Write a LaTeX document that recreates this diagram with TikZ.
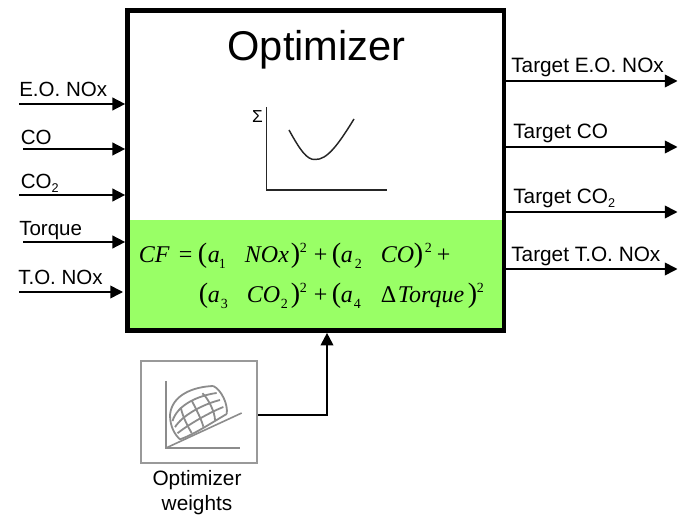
\documentclass[tikz,border=0pt]{standalone}
\usepackage{fontspec}
\setmainfont{Liberation Sans}
\newfontfamily\fserif{Liberation Serif}
\usetikzlibrary{arrows.meta,calc}
\newcommand{\pc}[2]{\rlap{\hskip #1\dimexpr 0.75pt\relax #2}}
\newcommand{\itm}[1]{\textit{#1}}
\newcommand{\lowd}[1]{\raisebox{-4pt}{\fontsize{10.5}{10.5}\selectfont #1}}
\newcommand{\highd}[1]{\raisebox{8pt}{\fontsize{10.5}{10.5}\selectfont #1}}
\newcommand{\bigp}[1]{{\fontsize{21}{21}\selectfont #1}}
\definecolor{panelgreen}{RGB}{153,255,102}
\definecolor{boxgray}{RGB}{153,153,153}
\definecolor{meshgray}{RGB}{140,140,140}
\tikzset{
  x=0.75pt,y=-0.75pt,
  arr/.style={line width=1.2pt,-{Triangle[length=9.5pt,width=9.5pt]},shorten >=0pt},
  lab/.style={anchor=base west,inner sep=0pt,font=\fontsize{15.4}{15.4}\selectfont},
  rlab/.style={anchor=base west,inner sep=0pt,font=\fontsize{15.6}{15.6}\selectfont},
  optbox/.style={draw=black,line width=3.5pt,minimum width=282.4pt,minimum height=240pt,inner sep=0pt},
  greenfill/.style={fill=panelgreen,draw=none},
  eqn/.style={anchor=base west,inner sep=0pt,font=\fserif\fontsize{18}{18}\selectfont},
  axis/.style={draw=black!85,line width=1.1pt},
  wbox/.style={draw=boxgray,line width=2pt,minimum width=87pt,minimum height=76.5pt,inner sep=0pt,fill=white},
  mesh/.style={draw=meshgray,line width=1.35pt},
  gaxis/.style={draw=meshgray,line width=1.2pt},
  wcaption/.style={inner sep=0pt,anchor=base,font=\fontsize{15.6}{15.6}\selectfont}
}
\begin{document}
\begin{tikzpicture}
\useasboundingbox (0,0) rectangle (678,516);
% green panel and main box
\path[greenfill] (127.5,220) rectangle (504,330);
\node[optbox] (opt) at (315.75,170.5) {};
\node[inner sep=0pt,anchor=base,font=\fontsize{31.2}{31.2}\selectfont] (title) at (316.5,61) {Optimizer};
% cost-function plot
\coordinate (ytop) at (266.5,107);
\coordinate (orig) at (266.5,190);
\coordinate (xend) at (387,190);
\draw[axis] (ytop) -- (orig) -- (xend);
\coordinate (cs) at (289,130);
\coordinate (ce) at (354,119);
\draw[axis] (cs) .. controls (300,150) and (307,160) .. (315,159.5) .. controls (327,160) and (338,145) .. (ce);
\node[inner sep=0pt,anchor=base,font=\fontsize{13}{13}\selectfont] (sigma) at (257.5,123) {Σ};
% equation
\node[eqn] (eq1) at (138,262.7) {\pc{0}{\itm{CF}}\pc{40}{=}\pc{59}{\bigp{(}}\pc{69}{\itm{a}}\pc{80}{\lowd{1}}\pc{106}{\itm{NOx}}\pc{152}{\bigp{)}}\pc{161}{\highd{2}}\pc{175}{+}\pc{193}{\bigp{(}}\pc{202}{\itm{a}}\pc{216}{\lowd{2}}\pc{242}{\itm{CO}}\pc{275}{\bigp{)}}\pc{286}{\highd{2}}\pc{298}{+}\hspace{236pt}};
\node[eqn] (eq2) at (138,303) {\pc{60}{\bigp{(}}\pc{69}{\itm{a}}\pc{82}{\lowd{3}}\pc{108}{\itm{CO}}\pc{142}{\lowd{2}}\pc{152}{\bigp{)}}\pc{161}{\highd{2}}\pc{175}{+}\pc{193}{\bigp{(}}\pc{202}{\itm{a}}\pc{215}{\lowd{4}}\pc{242}{Δ}\pc{259}{\itm{Torque}}\pc{329}{\bigp{)}}\pc{338}{\highd{2}}\hspace{262pt}};
% inputs
\coordinate (i1) at (19,104);
\coordinate (i2) at (23,149);
\coordinate (i3) at (19,195);
\coordinate (i4) at (23,242);
\coordinate (i5) at (19,292);
\coordinate (i5e) at (123,292);
\draw[arr] (i1) -- (i1 -| opt.west);
\draw[arr] (i2) -- (i2 -| opt.west);
\draw[arr] (i3) -- (i3 -| opt.west);
\draw[arr] (i4) -- (i4 -| opt.west);
\draw[arr] (i5) -- (i5e);
\node[lab] (li1) at (19,97) {E.O. NOx};
\node[lab] (li2) at (20.5,144.7) {CO};
\node[lab] (li3) at (20.5,189) {CO\raisebox{-2.5pt}{\fontsize{9.5}{9.5}\selectfont 2}};
\node[lab] (li4) at (19,236) {Torque};
\node[lab] (li5) at (18,285) {T.O. NOx};
% outputs
\coordinate (o1) at (677.5,81);
\coordinate (o2) at (677.5,147);
\coordinate (o3) at (677.5,212);
\coordinate (o4) at (677.5,269);
\draw[arr] (opt.east |- o1) -- (o1);
\draw[arr] (opt.east |- o2) -- (o2);
\draw[arr] (opt.east |- o3) -- (o3);
\draw[arr] (opt.east |- o4) -- (o4);
\node[rlab] (lo1) at (511,73) {Target E.O. NOx};
\node[rlab] (lo2) at (513,139) {Target CO};
\node[rlab] (lo3) at (513,204) {Target CO\raisebox{-2.5pt}{\fontsize{9.5}{9.5}\selectfont 2}};
\node[rlab] (lo4) at (511,262) {Target T.O. NOx};
% weights block
\node[wbox] (wb) at (199,412) {};
\coordinate (wbend) at (327,415);
\draw[arr,line width=1.5pt] (wb.east |- wbend) -- (wbend) -- (wbend |- opt.south);
\coordinate (gy) at (166,381);
\coordinate (go) at (166,448);
\coordinate (gx) at (240,448);
\coordinate (gd) at (241.7,413);
\draw[gaxis] (gy) -- (go) -- (gx);
\draw[gaxis] (go) -- (gd);
% mesh surface corners and handles
\coordinate (A) at (170,415);
\coordinate (B) at (213.3,386);
\coordinate (C) at (226.7,414);
\coordinate (D) at (180,439.3);
\coordinate (ab1) at (171.7,395);
\coordinate (ab2) at (193.3,386.7);
\coordinate (dc1) at (193.3,435);
\coordinate (dc2) at (213.3,421.7);
\coordinate (ad1) at (170,426.7);
\coordinate (ad2) at (175,435);
\coordinate (bc1) at (221.7,390);
\coordinate (bc2) at (228.3,405);
\foreach \t in {0,0.25,0.5,0.75,1}{
  \draw[mesh] ($(A)!\t!(D)$) .. controls ($(ab1)!\t!(dc1)$) and ($(ab2)!\t!(dc2)$) .. ($(B)!\t!(C)$);
  \draw[mesh] ($(A)!\t!(B)$) .. controls ($(ad1)!\t!(bc1)$) and ($(ad2)!\t!(bc2)$) .. ($(D)!\t!(C)$);
}
\node[wcaption] (w1) at (197,485) {Optimizer};
\node[wcaption] (w2) at (197,510) {weights};
\end{tikzpicture}
\end{document}
